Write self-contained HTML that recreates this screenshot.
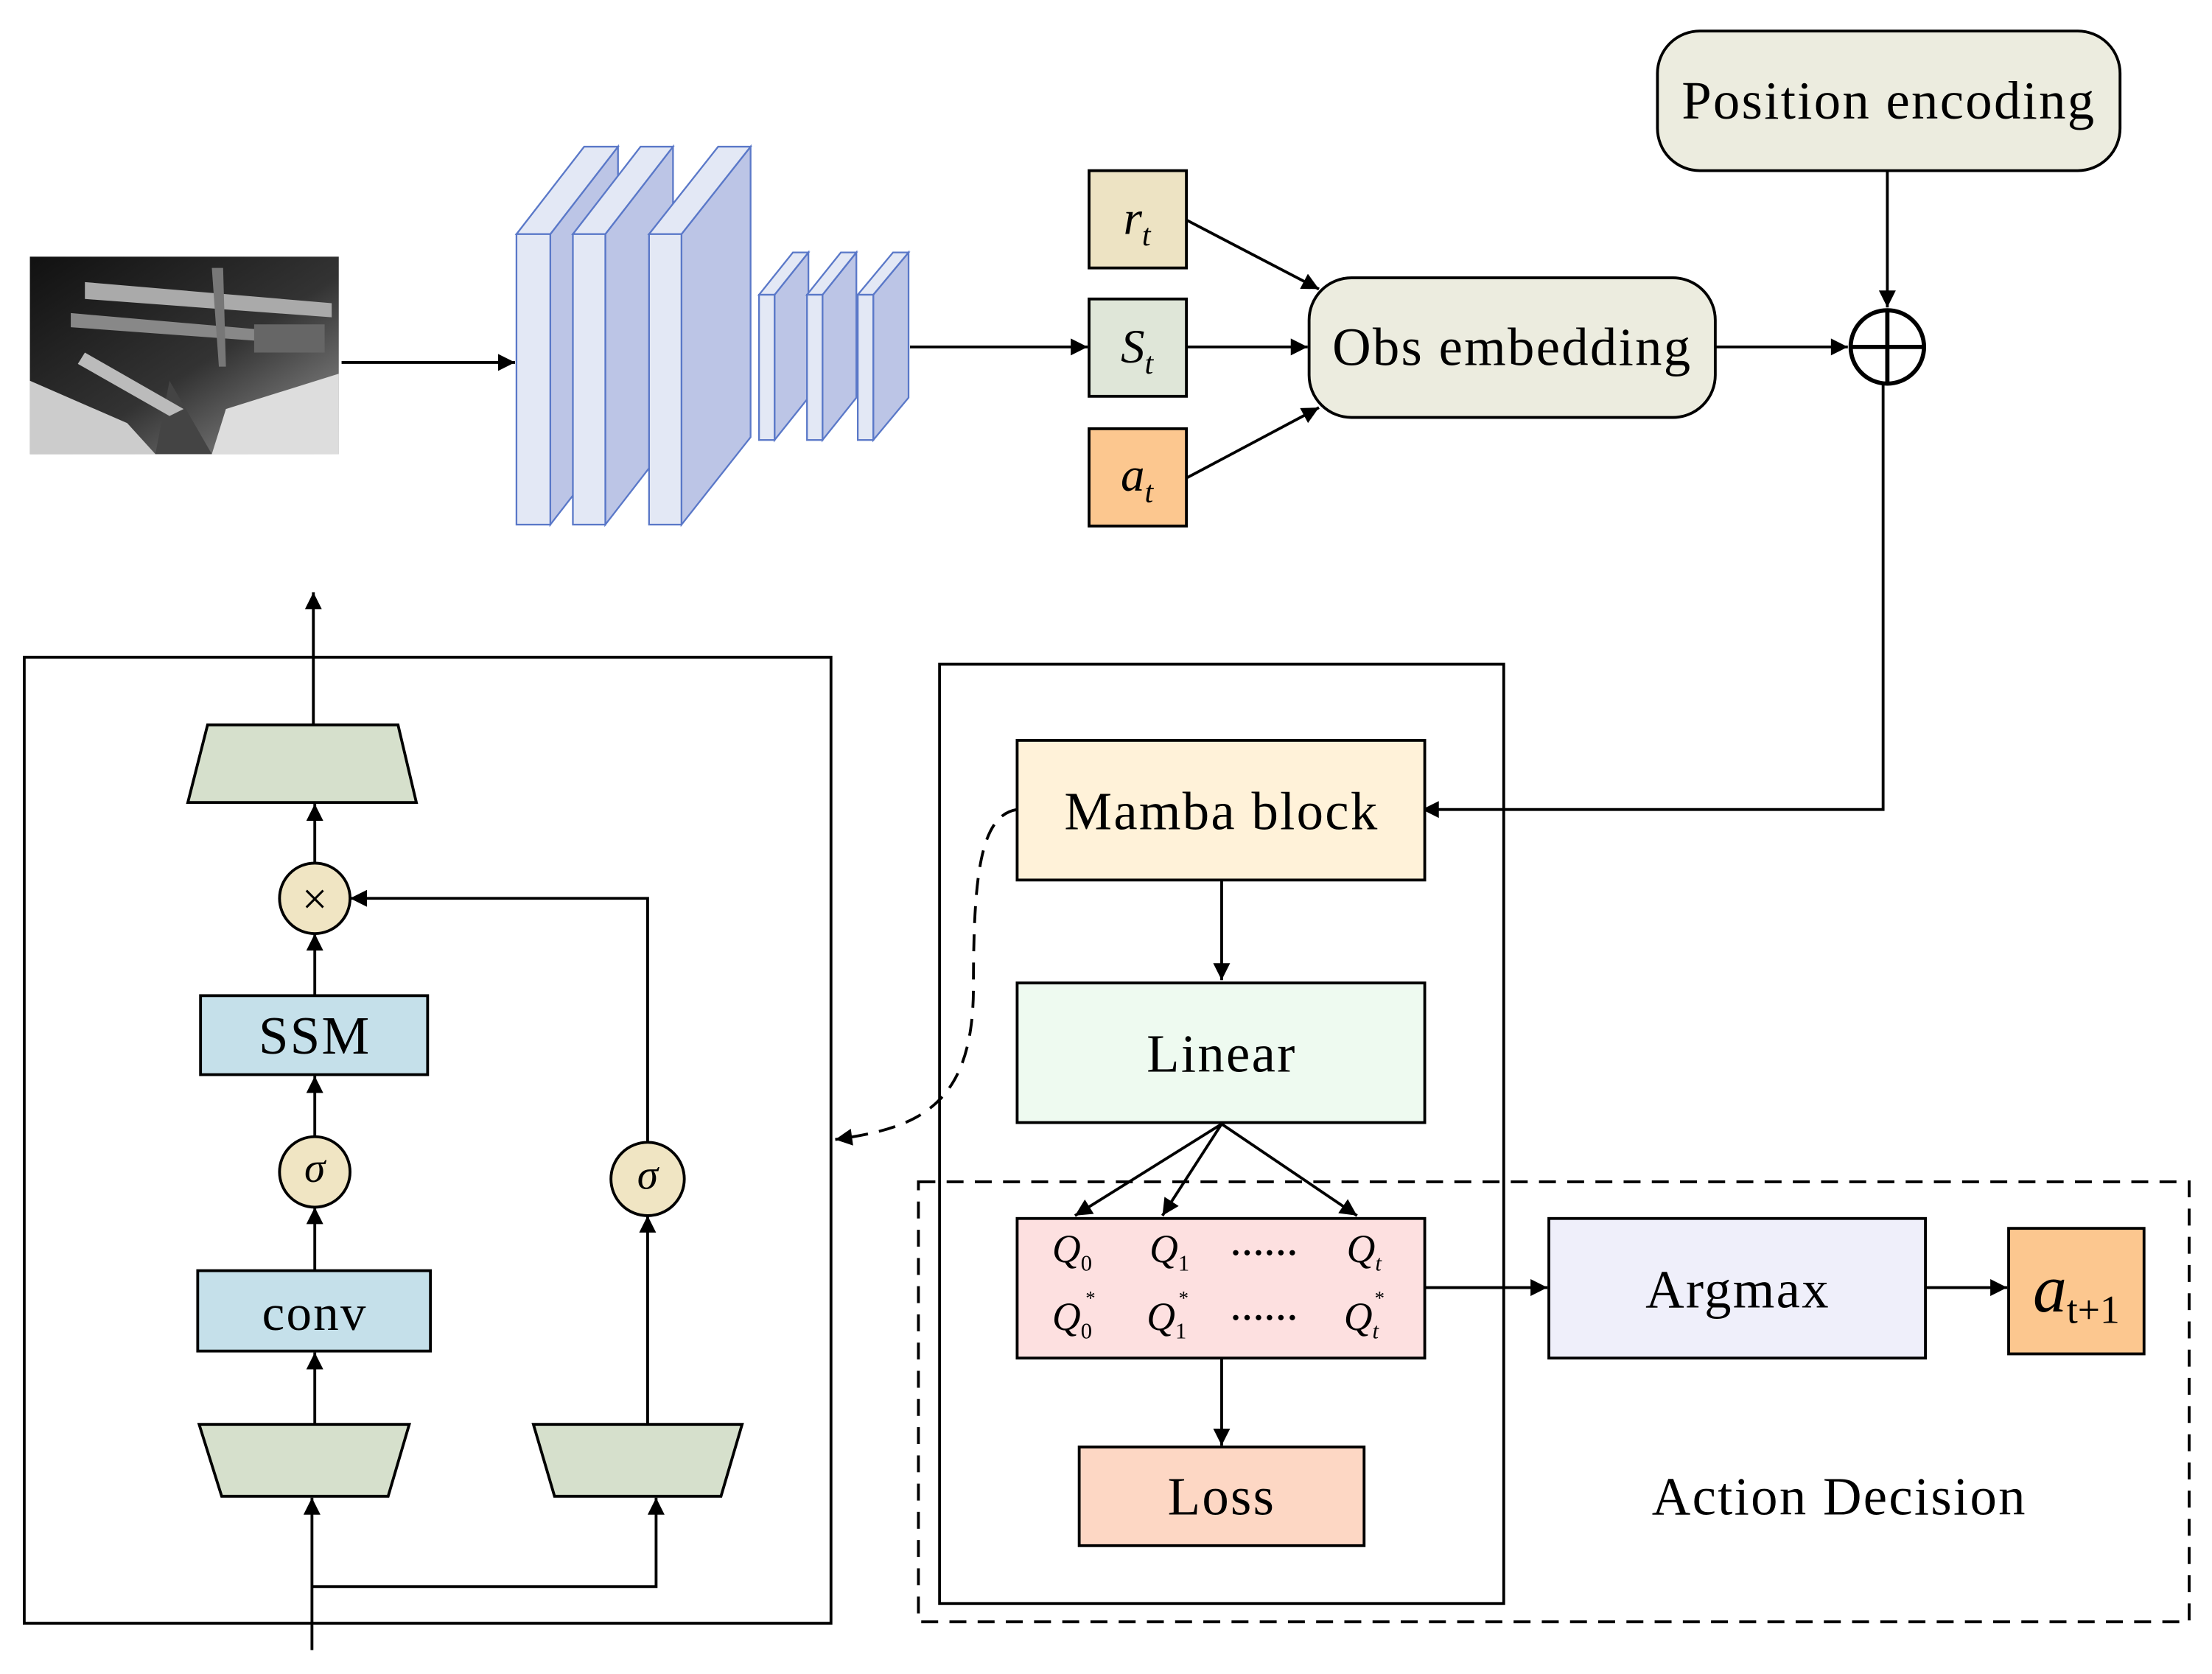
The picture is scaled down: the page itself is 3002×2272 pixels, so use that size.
<!DOCTYPE html>
<html><head><meta charset="utf-8"><style>html,body{margin:0;padding:0;background:#fff}svg{display:block}.w{letter-spacing:1.2px}</style></head><body>
<svg width="3002" height="2272" viewBox="0 0 1568 1187" xmlns="http://www.w3.org/2000/svg" font-family="'Liberation Serif', serif">
<defs>
<marker id="ab" viewBox="0 0 10 10" refX="10" refY="5" markerWidth="14" markerHeight="12" markerUnits="userSpaceOnUse" orient="auto"><path d="M0,0 L10,5 L0,10 z" fill="#000"/></marker>
<linearGradient id="ph" x1="0" y1="0" x2="1" y2="1"><stop offset="0" stop-color="#111"/><stop offset="0.55" stop-color="#333"/><stop offset="1" stop-color="#999"/></linearGradient>
</defs>
<g stroke="#000" stroke-width="2" fill="none">
<rect x="21" y="182" width="219" height="140" fill="url(#ph)" stroke="none"/>
<g stroke="none">
<path d="M60,200 L235,215 L235,225 L60,212z" fill="#aaa"/>
<path d="M50,222 L200,235 L200,243 L50,232z" fill="#888"/>
<path d="M150,190 L155,260 L160,260 L158,190z" fill="#777"/>
<path d="M180,230 L230,230 L230,250 L180,250z" fill="#666"/>
<path d="M21,270 L90,300 L110,322 L21,322z" fill="#ccc"/>
<path d="M160,290 L240,265 L240,322 L150,322z" fill="#ddd"/>
<path d="M120,270 L150,322 L110,322z" fill="#444"/>
<path d="M60,250 L130,290 L120,295 L55,258z" fill="#bbb"/>
</g>
<line x1="242" y1="257" x2="365" y2="257" marker-end="url(#ab)"/>
<g stroke="#5a78c8" stroke-width="1.2">
<path d="M390,166 L438,104 L438,310 L390,372z" fill="#bcc5e6"/><path d="M366,166 L414,104 L438,104 L390,166z" fill="#e3e8f5"/><rect x="366" y="166" width="24" height="206" fill="#e3e8f5"/>
<path d="M429,166 L477,104 L477,310 L429,372z" fill="#bcc5e6"/><path d="M406,166 L454,104 L477,104 L429,166z" fill="#e3e8f5"/><rect x="406" y="166" width="23" height="206" fill="#e3e8f5"/>
<path d="M483,166 L532,104 L532,310 L483,372z" fill="#bcc5e6"/><path d="M460,166 L509,104 L532,104 L483,166z" fill="#e3e8f5"/><rect x="460" y="166" width="23" height="206" fill="#e3e8f5"/>
<path d="M549,209 L573,179 L573,282 L549,312z" fill="#bcc5e6"/><path d="M538,209 L562,179 L573,179 L549,209z" fill="#e3e8f5"/><rect x="538" y="209" width="11" height="103" fill="#e3e8f5"/>
<path d="M583,209 L607,179 L607,282 L583,312z" fill="#bcc5e6"/><path d="M572,209 L596,179 L607,179 L583,209z" fill="#e3e8f5"/><rect x="572" y="209" width="11" height="103" fill="#e3e8f5"/>
<path d="M619,209 L644,179 L644,282 L619,312z" fill="#bcc5e6"/><path d="M608,209 L633,179 L644,179 L619,209z" fill="#e3e8f5"/><rect x="608" y="209" width="11" height="103" fill="#e3e8f5"/>
</g>
<line x1="645" y1="246" x2="771" y2="246" marker-end="url(#ab)"/>
<rect x="772" y="121" width="69" height="69" fill="#ede3c3"/>
<rect x="772" y="212" width="69" height="69" fill="#dfe6d8"/>
<rect x="772" y="304" width="69" height="69" fill="#fcc78f"/>
<line x1="841" y1="156" x2="935" y2="205" marker-end="url(#ab)"/>
<line x1="841" y1="246" x2="927" y2="246" marker-end="url(#ab)"/>
<line x1="841" y1="339" x2="935" y2="289" marker-end="url(#ab)"/>
<rect x="928" y="197" width="288" height="99" rx="30" fill="#ececdf"/>
<rect x="1175" y="22" width="328" height="99" rx="30" fill="#ececdf"/>
<line x1="1216" y1="246" x2="1310" y2="246" marker-end="url(#ab)"/>
<line x1="1338" y1="121" x2="1338" y2="218" marker-end="url(#ab)"/>
<circle cx="1338" cy="246" r="26" stroke-width="3"/>
<line x1="1312" y1="246" x2="1364" y2="246" stroke-width="3"/><line x1="1338" y1="220" x2="1338" y2="272" stroke-width="3"/>
<polyline points="1335,272 1335,574 1008,574" marker-end="url(#ab)"/>
<rect x="666" y="471" width="400" height="666"/>
<rect x="721" y="525" width="289" height="99" fill="#fff2d9"/>
<line x1="866" y1="624" x2="866" y2="695" marker-end="url(#ab)"/>
<rect x="721" y="697" width="289" height="99" fill="#eefaf0"/>
<line x1="866" y1="797" x2="762" y2="862" marker-end="url(#ab)"/>
<line x1="866" y1="797" x2="824" y2="862" marker-end="url(#ab)"/>
<line x1="866" y1="797" x2="962" y2="862" marker-end="url(#ab)"/>
<rect x="721" y="864" width="289" height="99" fill="#fde0e0"/>
<line x1="1010" y1="913" x2="1097" y2="913" marker-end="url(#ab)"/>
<rect x="1098" y="864" width="267" height="99" fill="#efeffa"/>
<line x1="1365" y1="913" x2="1423" y2="913" marker-end="url(#ab)"/>
<rect x="1424" y="871" width="96" height="89" fill="#fcc78f"/>
<line x1="866" y1="963" x2="866" y2="1025" marker-end="url(#ab)"/>
<rect x="765" y="1026" width="202" height="70" fill="#fdd7c4"/>
<rect x="651" y="838" width="901" height="312" stroke-dasharray="12,8"/>
<path d="M721,574 C695,578 690,620 690,700 C690,785 650,800 592,808" stroke-dasharray="12,8" marker-end="url(#ab)"/>
<rect x="17" y="466" width="572" height="685"/>
<path d="M147,514 L282,514 L295,569 L133,569z" fill="#d6e0cc"/>
<line x1="222" y1="514" x2="222" y2="420" marker-end="url(#ab)"/>
<line x1="223" y1="612" x2="223" y2="570" marker-end="url(#ab)"/>
<circle cx="223" cy="637" r="25" fill="#f0e5c3"/>
<polyline points="459,810 459,637 248,637" marker-end="url(#ab)"/>
<line x1="223" y1="706" x2="223" y2="662" marker-end="url(#ab)"/>
<rect x="142" y="706" width="161" height="56" fill="#c5e0ea"/>
<line x1="223" y1="806" x2="223" y2="763" marker-end="url(#ab)"/>
<circle cx="223" cy="831" r="25" fill="#f0e5c3"/>
<line x1="223" y1="901" x2="223" y2="856" marker-end="url(#ab)"/>
<rect x="140" y="901" width="165" height="57" fill="#c5e0ea"/>
<line x1="223" y1="1010" x2="223" y2="959" marker-end="url(#ab)"/>
<path d="M141,1010 L290,1010 L275,1061 L157,1061z" fill="#d6e0cc"/>
<path d="M378,1010 L526,1010 L511,1061 L393,1061z" fill="#d6e0cc"/>
<circle cx="459" cy="836" r="26" fill="#f0e5c3"/>
<line x1="459" y1="1010" x2="459" y2="862" marker-end="url(#ab)"/>
<line x1="221" y1="1170" x2="221" y2="1062" marker-end="url(#ab)"/>
<polyline points="221,1125 465,1125 465,1062" marker-end="url(#ab)"/>
</g>
<g fill="#000" text-anchor="middle">
<text x="806" y="166" font-size="34" font-style="italic">r<tspan font-size="22" dy="8">t</tspan></text>
<text x="806" y="257" font-size="34" font-style="italic">S<tspan font-size="22" dy="8">t</tspan></text>
<text x="806" y="348" font-size="34" font-style="italic">a<tspan font-size="22" dy="8">t</tspan></text>
<text class="w" x="1072" y="259" font-size="38">Obs embedding</text>
<text class="w" x="1339" y="84" font-size="38">Position encoding</text>
<text class="w" x="866" y="588" font-size="38">Mamba block</text>
<text class="w" x="866" y="760" font-size="38">Linear</text>
<text class="w" x="1232" y="927" font-size="38">Argmax</text>
<text x="1472" y="930" font-size="48" font-style="italic">a<tspan font-size="28" font-style="normal" dy="8">t+1</tspan></text>
<text class="w" x="866" y="1074" font-size="38">Loss</text>
<text class="w" x="1304" y="1074" font-size="38">Action Decision</text>
<text class="w" x="223" y="747" font-size="38">SSM</text>
<text class="w" x="223" y="943" font-size="36">conv</text>
<text x="223" y="838" font-size="30" font-style="italic">σ</text>
<text x="459" y="843" font-size="30" font-style="italic">σ</text>
<text x="223" y="648" font-size="32">×</text>
<g font-size="28" font-style="italic">
<text x="760" y="895">Q<tspan font-size="16" font-style="normal" dy="6">0</tspan></text>
<text x="829" y="895">Q<tspan font-size="16" font-style="normal" dy="6">1</tspan></text>
<text x="967" y="895">Q<tspan font-size="16" dy="6">t</tspan></text>
<text x="760" y="943">Q<tspan font-size="16" font-style="normal" dy="6">0</tspan></text>
<text x="827" y="943">Q<tspan font-size="16" font-style="normal" dy="6">1</tspan></text>
<text x="965" y="943">Q<tspan font-size="16" dy="6">t</tspan></text>
</g>
<g font-size="14"><text x="773" y="925">*</text><text x="839" y="925">*</text><text x="978" y="925">*</text></g>
<text x="896" y="890" font-size="24" font-weight="bold">……</text>
<text x="896" y="936" font-size="24" font-weight="bold">……</text>
</g>
</svg>
</body></html>
